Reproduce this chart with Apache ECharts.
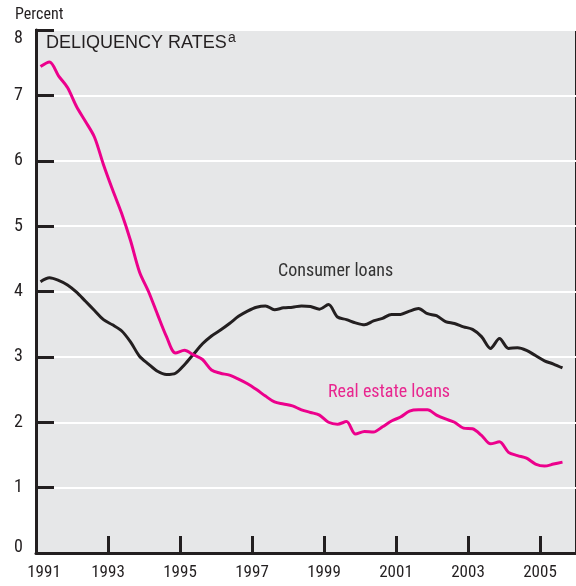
<!DOCTYPE html>
<html>
<head>
<meta charset="utf-8">
<script src="https://cdn.jsdelivr.net/npm/echarts@6/dist/echarts.min.js"></script>
<style>
  html, body { margin: 0; padding: 0; background: #fff; }
  #chart { width: 576px; height: 586px; }
</style>
</head>
<body>
<div id="chart"></div>
<script>
// quarterly, 1991Q1 .. 2005Q3 (plotted at mid-quarter)
const startYear = 1991;
const yearTicks = ['1991', '1993', '1995', '1997', '1999', '2001', '2003', '2005'];
const yTicks = [0, 1, 2, 3, 4, 5, 6, 7, 8];

const consumerLoans = [
    4.15, 4.21, 4.17, 4.10, 3.99, 3.85, 3.71, 3.57, 3.49, 3.40,
    3.23, 3.01, 2.89, 2.78, 2.73, 2.75, 2.88, 3.04, 3.20, 3.32,
    3.41, 3.51, 3.62, 3.70, 3.76, 3.78, 3.72, 3.75, 3.76, 3.78,
    3.77, 3.73, 3.80, 3.61, 3.57, 3.52, 3.49, 3.55, 3.59, 3.65,
    3.65, 3.70, 3.74, 3.66, 3.63, 3.54, 3.51, 3.46, 3.42, 3.31,
    3.13, 3.28, 3.13, 3.14, 3.10, 3.02, 2.94, 2.89, 2.83
];

const realEstateLoans = [
    7.44, 7.51, 7.30, 7.12, 6.83, 6.60, 6.36, 5.94, 5.56, 5.20,
    4.78, 4.30, 4.00, 3.65, 3.31, 3.06, 3.10, 3.03, 2.96, 2.80,
    2.75, 2.72, 2.66, 2.59, 2.50, 2.40, 2.31, 2.28, 2.25, 2.19,
    2.15, 2.11, 2.00, 1.97, 2.01, 1.82, 1.86, 1.85, 1.93, 2.02,
    2.08, 2.17, 2.19, 2.19, 2.11, 2.05, 2.00, 1.91, 1.90, 1.80,
    1.67, 1.70, 1.54, 1.49, 1.45, 1.36, 1.33, 1.36, 1.39
];

const quarterX = i => startYear + 0.125 + i * 0.25;
const toPairs = arr => arr.map((v, i) => [quarterX(i), v]);

const chartDom = document.getElementById('chart');
const myChart = echarts.init(chartDom);

const colors = {
    consumer: '#231f20',
    realEstate: '#ec008c',
    realEstateText: '#e8268f',
    text: '#231f20',
    bg: '#e6e7e8'
};

const narrow = '"Roboto Condensed", Roboto, sans-serif';

const option = {
    backgroundColor: '#fff',
    animation: false,
    grid: {
        left: 36,
        top: 30,
        width: 541,
        height: 523,
        show: true,
        backgroundColor: colors.bg,
        borderColor: colors.text,
        borderWidth: 2
    },
    xAxis: {
        type: 'value',
        min: startYear,
        max: 2006,
        interval: 2,
        axisLine: { show: true, onZero: false, lineStyle: { color: colors.text, width: 3 } },
        axisTick: { show: true, inside: true, length: 17, lineStyle: { color: colors.text, width: 3 } },
        splitLine: { show: false },
        axisLabel: {
            showMaxLabel: false,
            margin: 11,
            color: colors.text,
            fontFamily: narrow,
            fontSize: 17,
            formatter: v => {
                const s = String(Math.round(v));
                if (!yearTicks.includes(s)) return '';
                return s === yearTicks[0] ? '{first|' + s + '}' : s;
            },
            rich: {
                first: { fontFamily: narrow, fontSize: 17, color: colors.text, padding: [0, 0, 0, 16] }
            }
        }
    },
    yAxis: {
        type: 'value',
        min: yTicks[0],
        max: yTicks[yTicks.length - 1],
        interval: 1,
        axisLine: { show: true, lineStyle: { color: colors.text, width: 3 } },
        axisTick: { show: true, inside: true, length: 18, lineStyle: { color: colors.text, width: 3 } },
        splitLine: { show: true, lineStyle: { color: '#ffffff', width: 2 } },
        axisLabel: {
            margin: 13,
            color: colors.text,
            fontFamily: narrow,
            fontSize: 18,
            formatter: v => {
                if (v === yTicks[0]) return '{bottom|' + v + '}';
                if (v === yTicks[yTicks.length - 1]) return '{top|' + v + '}';
                return String(v);
            },
            rich: {
                bottom: { fontFamily: narrow, fontSize: 18, color: colors.text, padding: [0, 0, 12, 0] },
                top: { fontFamily: narrow, fontSize: 18, color: colors.text, padding: [16, 0, 0, 0] }
            }
        }
    },
    graphic: [
        {
            type: 'text',
            left: 15,
            top: 7,
            style: { text: 'Percent', fill: colors.text, font: '16px ' + narrow }
        },
        {
            type: 'text',
            left: 46,
            top: 34,
            z: 10,
            style: { text: 'DELIQUENCY RATES', fill: colors.text, font: '18px "Liberation Sans", Arial, sans-serif' }
        },
        {
            type: 'text',
            left: 228,
            top: 31,
            z: 10,
            style: { text: 'a', fill: colors.text, font: '14px "Liberation Sans", Arial, sans-serif' }
        },
        {
            type: 'text',
            left: 278,
            top: 262,
            z: 10,
            style: { text: 'Consumer loans', fill: '#333333', font: '18px ' + narrow }
        },
        {
            type: 'text',
            left: 328,
            top: 383,
            z: 10,
            style: { text: 'Real estate loans', fill: colors.realEstateText, font: '18px ' + narrow }
        }
    ],
    series: [
        {
            name: 'Consumer loans',
            type: 'line',
            data: toPairs(consumerLoans),
            symbol: 'none',
            smooth: 0.3,
            lineStyle: { width: 3, color: colors.consumer }
        },
        {
            name: 'Real estate loans',
            type: 'line',
            data: toPairs(realEstateLoans),
            symbol: 'none',
            smooth: 0.3,
            lineStyle: { width: 3, color: colors.realEstate }
        }
    ]
};

myChart.setOption(option);
window.addEventListener('resize', () => myChart.resize());
</script>
</body>
</html>
